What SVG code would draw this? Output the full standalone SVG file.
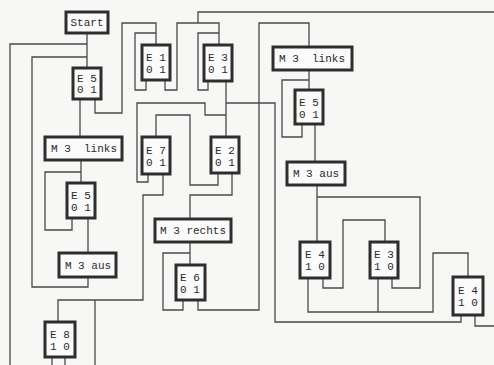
<svg xmlns="http://www.w3.org/2000/svg" width="494" height="365" viewBox="0 0 494 365">
<style>
.bg{fill:#f7f7f5}
.box{fill:#fbfbfb;stroke:#2e2e2e;stroke-width:3}
.in{fill:none;stroke:#8a8a8a;stroke-width:0.8}
.t{font-family:"Liberation Mono","DejaVu Sans Mono",monospace;font-size:11px;fill:#2a2a2a;text-anchor:middle}
#connectors path{fill:none;stroke:#4a4a4a;stroke-width:1.3}
</style>
<rect class="bg" x="0" y="0" width="494" height="365"/>
<g id="connectors">
<path d="M87,33 V68"/>
<path d="M10,365 V44 H87"/>
<path d="M87,57 H32 V287 H88 V277"/>
<path d="M80,98 V137"/>
<path d="M95,98 V113 H122 V23 H156 V45"/>
<path d="M156,33 H135 V90 H146 V80"/>
<path d="M165,80 V90 H177 V23 H219 V45"/>
<path d="M198,23 V12 H494"/>
<path d="M219,33 H198 V90 H208 V81"/>
<path d="M226,81 V137"/>
<path d="M226,103 H275 V322 H461 V315"/>
<path d="M148,174 V182 H137 V103 H205 V115 H226"/>
<path d="M218,173 V185 H190 V115 H156 V137"/>
<path d="M163,174 V195 H143 V300 H58 V322"/>
<path d="M95,300 V365"/>
<path d="M52,357 V365"/>
<path d="M65,357 V365"/>
<path d="M81,160 V183"/>
<path d="M81,172 H45 V230 H72 V218"/>
<path d="M88,218 V253"/>
<path d="M232,173 V195 H190 V219"/>
<path d="M190,242 V265"/>
<path d="M190,253 H163 V310 H183 V300"/>
<path d="M198,300 V310 H259 V23 H309 V47"/>
<path d="M309,70 V90"/>
<path d="M309,80 H282 V137 H302 V124"/>
<path d="M315,124 V162"/>
<path d="M317,185 V242"/>
<path d="M317,197 H420 V288 H392 V278"/>
<path d="M323,278 V288 H343 V220 H385 V242"/>
<path d="M308,278 V312 H433 V253 H468 V277"/>
<path d="M378,278 V312"/>
<path d="M475,315 V326 H494"/>
</g>
<g id="start"><rect class="box" x="66" y="12" width="42" height="21"/><text class="t" x="87" y="26">Start</text></g>
<g id="e5a"><rect class="box" x="73" y="68" width="28" height="31"/><text class="t" x="87" y="82">E 5</text><text class="t" x="87" y="93">0 1</text></g>
<g id="e1"><rect class="box" x="142" y="45" width="28" height="35"/><text class="t" x="156" y="61">E 1</text><text class="t" x="156" y="73">0 1</text></g>
<g id="e3a"><rect class="box" x="204" y="45" width="28" height="36"/><text class="t" x="218" y="61">E 3</text><text class="t" x="218" y="73">0 1</text></g>
<g id="e7"><rect class="box" x="142" y="137" width="28" height="37"/><text class="t" x="156" y="154">E 7</text><text class="t" x="156" y="166">0 1</text></g>
<g id="e2"><rect class="box" x="211" y="137" width="28" height="36"/><text class="t" x="225" y="154">E 2</text><text class="t" x="225" y="166">0 1</text></g>
<g id="m3linksL"><rect class="box" x="45" y="137" width="77" height="23"/><text class="t" x="84" y="152" xml:space="preserve">M 3  links</text></g>
<g id="e5b"><rect class="box" x="67" y="183" width="28" height="35"/><text class="t" x="81" y="199">E 5</text><text class="t" x="81" y="211">0 1</text></g>
<g id="m3ausL"><rect class="box" x="59" y="253" width="57" height="24"/><text class="t" x="88" y="269">M 3 aus</text></g>
<g id="e8"><rect class="box" x="45" y="322" width="30" height="35"/><text class="t" x="60" y="338">E 8</text><text class="t" x="60" y="350">1 0</text></g>
<g id="m3rechts"><rect class="box" x="155" y="219" width="76" height="23"/><text class="t" x="193" y="234">M 3 rechts</text></g>
<g id="e6"><rect class="box" x="176" y="265" width="29" height="35"/><text class="t" x="190" y="281">E 6</text><text class="t" x="190" y="293">0 1</text></g>
<g id="m3linksR"><rect class="box" x="273" y="47" width="79" height="23"/><text class="t" x="312" y="62" xml:space="preserve">M 3  links</text></g>
<g id="e5c"><rect class="box" x="295" y="90" width="28" height="34"/><text class="t" x="309" y="106">E 5</text><text class="t" x="309" y="118">0 1</text></g>
<g id="m3ausR"><rect class="box" x="287" y="162" width="58" height="23"/><text class="t" x="316" y="177">M 3 aus</text></g>
<g id="e4a"><rect class="box" x="300" y="242" width="30" height="36"/><text class="t" x="315" y="258">E 4</text><text class="t" x="315" y="270">1 0</text></g>
<g id="e3b"><rect class="box" x="370" y="242" width="28" height="36"/><text class="t" x="384" y="258">E 3</text><text class="t" x="384" y="270">1 0</text></g>
<g id="e4b"><rect class="box" x="453" y="277" width="30" height="38"/><text class="t" x="468" y="294">E 4</text><text class="t" x="468" y="306">1 0</text></g>
</svg>
